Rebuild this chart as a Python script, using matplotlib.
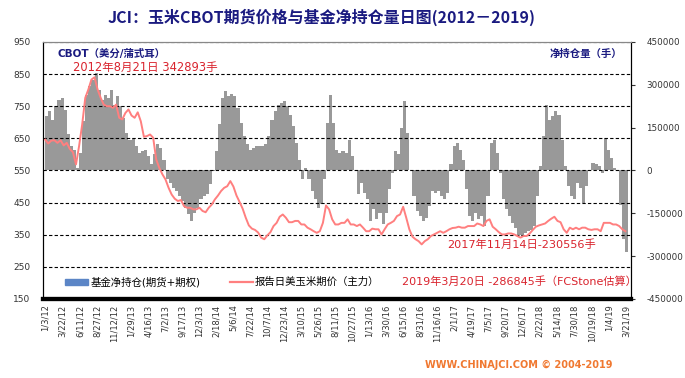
import numpy as np
import pandas as pd
import matplotlib
matplotlib.use("Agg")
import matplotlib.pyplot as plt
from matplotlib.patches import Patch
from matplotlib.lines import Line2D

plt.rcParams['font.family'] = ['DejaVu Sans', 'Noto Sans CJK SC']
plt.rcParams['axes.unicode_minus'] = False

# report dates: every two weeks from 2012-01-03
start_date = "2012-01-03"

# fund net position (futures + options), contracts, thousands
net_position_k = [
    190, 207, 178, 225, 248, 254, 213, 126, 85, 73,
    9, 62, 172, 266, 295, 318, 343, 283, 248, 266,
    254, 283, 231, 260, 225, 184, 132, 108, 114, 85,
    62, 68, 73, 50, 21, 56, 94, 79, 38, -31,
    -43, -61, -72, -90, -107, -130, -154, -177, -148, -130,
    -101, -90, -84, -49, -3, 68, 161, 254, 277, 260,
    268, 260, 219, 167, 120, 91, 73, 79, 85, 87,
    85, 91, 120, 178, 207, 231, 236, 242, 225, 196,
    155, 97, 38, -31, 9, -31, -72, -101, -130, -119,
    -31, 167, 266, 167, 73, 62, 68, 62, 108, 50,
    3, -84, -43, -78, -101, -177, -136, -171, -148, -189,
    -148, -66, -8, 68, 56, 149, 242, 132, 3, -90,
    -142, -160, -177, -165, -125, -72, -78, -72, -90, -101,
    -78, 21, 85, 97, 73, 38, -66, -160, -177, -148,
    -171, -160, -195, -90, 97, 108, 62, -8, -101, -136,
    -160, -183, -200, -231, -225, -218, -212, -210, -195, -90,
    15, 120, 231, 178, 190, 207, 196, 108, 15, -55,
    -90, -101, -43, -61, -113, -55, 3, 27, 21, 15,
    -8, 114, 73, 44, 9, -2, -120, -240, -287,
]

# CBOT corn front month, cents/bushel
corn_price = [
    646, 634, 643, 644, 636, 644, 628, 636, 617, 607,
    569, 626, 693, 776, 802, 833, 840, 802, 776, 755,
    750, 750, 745, 755, 714, 709, 729, 740, 721, 714,
    731, 703, 655, 657, 662, 652, 584, 558, 538, 522,
    496, 475, 462, 455, 458, 439, 434, 434, 429, 429,
    434, 424, 420, 434, 444, 460, 472, 486, 496, 501,
    517, 500, 472, 452, 431, 403, 379, 369, 365, 357,
    341, 336, 348, 358, 377, 387, 406, 413, 403, 389,
    389, 393, 393, 382, 382, 372, 367, 361, 356, 361,
    387, 441, 429, 398, 382, 382, 387, 387, 398, 382,
    382, 377, 382, 372, 361, 361, 369, 367, 367, 351,
    367, 382, 387, 393, 408, 413, 437, 403, 367, 344,
    336, 330, 320, 330, 336, 346, 351, 356, 361, 356,
    361, 367, 371, 372, 375, 372, 372, 377, 377, 377,
    385, 382, 377, 393, 398, 375, 367, 358, 351, 351,
    354, 354, 351, 346, 341, 346, 346, 354, 365, 375,
    379, 382, 385, 393, 400, 406, 393, 389, 367, 356,
    372, 367, 372, 367, 372, 372, 367, 365, 367, 367,
    361, 387, 387, 387, 382, 382, 377, 367, 361,
]

tick_labels = [
    "1/3/12", "3/22/12", "6/11/12", "8/27/12", "11/12/12", "1/29/13", "4/16/13",
    "7/2/13", "9/17/13", "12/3/13", "2/18/14", "5/6/14", "7/22/14", "10/7/14",
    "12/23/14", "3/10/15", "5/26/15", "8/11/15", "10/27/15", "1/13/16", "3/30/16",
    "6/15/16", "8/31/16", "11/16/16", "2/1/17", "4/19/17", "7/5/17", "9/20/17",
    "12/6/17", "2/22/18", "5/14/18", "7/30/18", "10/19/18", "1/4/19", "3/21/19",
]

dates = pd.date_range(start_date, periods=len(net_position_k), freq="14D")
net_position = np.array(net_position_k) * 1000
tick_dates = pd.to_datetime(tick_labels, format="%m/%d/%y")

navy = "#1A1A80"
red_text = "#D9232D"
gray = "#999999"
pink = "#FF7F7F"

fig = plt.figure(figsize=(6.85, 3.78), dpi=100)
ax = fig.add_axes([0.063, 0.209, 0.858, 0.68])
ax2 = ax.twinx()

# bars (net position) on the bottom axes, scale shown on the right
ax.bar(dates, net_position, width=14, align="edge", color=gray, linewidth=0)
ax.set_ylim(-450000, 450000)
ax.set_yticks(np.arange(-450000, 450001, 150000))
ax.yaxis.tick_right()
ax.tick_params(axis="y", labelsize=6.3, colors="#333333", pad=8, length=3, direction="out")

# price line on top axes, scale on the left
ax2.set_ylim(150, 950)
ax2.set_yticks(np.arange(150, 951, 100))
ax2.yaxis.tick_left()
ax2.tick_params(axis="y", labelsize=6.5, colors="#333333", pad=9, length=0)
for g in range(250, 951, 100):
    ax2.axhline(g, color="black", lw=0.8, ls=(0, (3, 2)), zorder=1)
ax2.plot(dates, corn_price, color=pink, lw=1.4, zorder=3)

ax.set_xlim(pd.Timestamp("2011-12-25"), pd.Timestamp("2019-04-13"))
ax.set_xticks(tick_dates)
ax.set_xticklabels(tick_labels, rotation=90, fontsize=6, color="#333333")
ax.tick_params(axis="x", length=0, pad=4)

for a in (ax, ax2):
    a.spines["left"].set_color("black")
    a.spines["right"].set_color("black")
    a.spines["top"].set_color("#888888")
    a.spines["top"].set_linewidth(0.8)
    a.spines["bottom"].set_linewidth(3)
    a.spines["bottom"].set_color("black")

ax2.text(0.025, 0.955, "CBOT（美分/蒲式耳）", transform=ax2.transAxes, fontsize=7.5,
         color=navy, fontweight="bold", va="center", ha="left")
ax2.text(0.985, 0.955, "净持仓量（手）", transform=ax2.transAxes, fontsize=7.5,
         color=navy, fontweight="bold", va="center", ha="right")
ax2.text(0.05, 0.9, "2012年8月21日 342893手", transform=ax2.transAxes, fontsize=8.3,
         color=red_text, va="center", ha="left")
ax2.text(0.688, 0.21, "2017年11月14日-230556手", transform=ax2.transAxes, fontsize=8.1,
         color=red_text, va="center", ha="left")
ax2.text(0.61, 0.066, "2019年3月20日 -286845手（FCStone估算）", transform=ax2.transAxes,
         fontsize=8.0, color=red_text, va="center", ha="left")

handles = [Patch(color="#5B85C6"), Line2D([0], [0], color=pink, lw=1.6)]
labels = ["基金净持仓(期货+期权)", "报告日美玉米期价（主力）"]
ax2.legend(handles, labels, loc="center left", bbox_to_anchor=(0.038, 0.066), ncol=2,
           frameon=False, fontsize=7.5, handlelength=2.2, handleheight=0.5,
           handletextpad=0.2, columnspacing=2.8, borderaxespad=0, borderpad=0)

fig.text(0.47, 0.955, "JCI：玉米CBOT期货价格与基金净持仓量日图(2012－2019)",
         fontsize=11.5, fontweight="bold", color=navy, ha="center", va="center",
         family=["Noto Sans CJK SC", "DejaVu Sans"])
fig.text(0.757, 0.034, "WWW.CHINAJCI.COM © 2004-2019", fontsize=7, fontweight="bold",
         color="#F07830", ha="center", va="center")

fig.savefig("out.png", dpi=100)
